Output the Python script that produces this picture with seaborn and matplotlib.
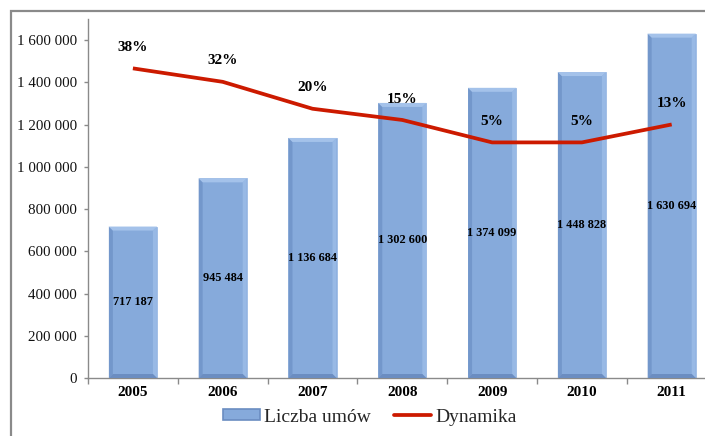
import numpy as np
import matplotlib
matplotlib.use("Agg")
import matplotlib.pyplot as plt
from matplotlib.patches import Polygon, Rectangle, Patch
from matplotlib.lines import Line2D
from matplotlib.ticker import FuncFormatter
import seaborn as sns

# Number of contracts per year and year-on-year growth (%)
years = ["2005", "2006", "2007", "2008", "2009", "2010", "2011"]
contracts = [717187, 945484, 1136684, 1302600, 1374099, 1448828, 1630694]
growth = [38, 32, 20, 15, 5, 5, 13]
y_ticks = [0, 200000, 400000, 600000, 800000, 1000000, 1200000, 1400000, 1600000]

sns.set_theme(style="white")
plt.rcParams["font.family"] = ["Liberation Serif", "DejaVu Serif"]

BAR = "#86aadb"
BAR_DARK = "#7397cb"
BAR_DARKER = "#6b8dc1"
BAR_LIGHT = "#98b9e5"
BAR_LIGHTER = "#a4c2ea"
RED = "#cc1a00"
GREY = "#8a8a8a"


def spaced(v):
    return f"{int(v):,}".replace(",", " ")


fig = plt.figure(figsize=(7.05, 4.36), dpi=100)
ax = fig.add_axes([88 / 705, 1 - 378 / 436, 628.6 / 705, 359 / 436])

sns.barplot(x=years, y=contracts, color=BAR, saturation=1, width=0.535,
            edgecolor="#9fbde6", linewidth=0.6, ax=ax, zorder=2)

ax.set_xlim(-0.5, len(years) - 0.5)
ax.set_ylim(0, 1700000)

# bevelled edges on each bar
px_x = 1 / 89.8
px_y = 1700000 / 359
bx, by = 4 * px_x, 4 * px_y
for bar in ax.patches:
    x0, w, h = bar.get_x(), bar.get_width(), bar.get_height()
    x1 = x0 + w
    sides = [
        ([(x0, 0), (x0, h), (x0 + bx, h - by), (x0 + bx, by)], BAR_DARK),
        ([(x1, 0), (x1, h), (x1 - bx, h - by), (x1 - bx, by)], BAR_LIGHT),
        ([(x0, h), (x1, h), (x1 - bx, h - by), (x0 + bx, h - by)], BAR_LIGHTER),
        ([(x0, 0), (x1, 0), (x1 - bx, by), (x0 + bx, by)], BAR_DARKER),
    ]
    for pts, c in sides:
        ax.add_patch(Polygon(pts, closed=True, facecolor=c, edgecolor="none", zorder=3))

ax.bar_label(ax.containers[0], labels=[spaced(v) for v in contracts],
             label_type="center", fontsize=8.8, fontweight="bold", color="black", zorder=5)

# axes styling
for s in ("top", "right"):
    ax.spines[s].set_visible(False)
for s in ("left", "bottom"):
    ax.spines[s].set_color(GREY)
    ax.spines[s].set_linewidth(1.0)

ax.set_yticks(y_ticks)
ax.yaxis.set_major_formatter(FuncFormatter(lambda v, p: spaced(v)))
ax.tick_params(axis="y", left=True, length=3, width=1, color=GREY, pad=5,
               labelsize=10.8, labelcolor="#111111")

ax.set_xticks(range(len(years)))
ax.set_xticklabels(years, fontweight="bold", fontsize=11)
ax.set_xticks(np.arange(-0.5, len(years)), minor=True)
ax.tick_params(axis="x", which="major", length=0, pad=6, labelcolor="black")
ax.tick_params(axis="x", which="minor", bottom=True, length=4, width=1, color=GREY)
ax.set_xlabel("")
ax.set_ylabel("")
ax.grid(False)

# growth line on a secondary scale
ax2 = ax.twinx()
sns.lineplot(x=np.arange(len(years)), y=growth, color=RED, linewidth=2.7,
             ax=ax2, solid_capstyle="butt")
ax2.set_ylim(-100, 60)
ax2.set_axis_off()
for i, g in enumerate(growth):
    ax2.annotate(f"{g}%", (i, g), xytext=(0, 15), textcoords="offset points",
                 ha="center", va="center", fontsize=11, fontweight="bold", color="black")

# legend
handles = [Patch(facecolor=BAR, edgecolor=BAR_DARKER, linewidth=1.2),
           Line2D([0], [0], color=RED, linewidth=2.7)]
fig.legend(handles, ["Liczba umów", "Dynamika"], loc="center",
           bbox_to_anchor=(370 / 705, 1 - 417 / 436), ncol=2, frameon=False,
           fontsize=14, handlelength=1.9, handleheight=0.5, handletextpad=0.2,
           columnspacing=1.2)

# outer chart frame
top = 1 - 11 / 436
fig.patches.append(Rectangle((11 / 705, -0.2), 1.2, top + 0.2,
                             transform=fig.transFigure, fill=False,
                             edgecolor=GREY, linewidth=1.6, zorder=0))

fig.savefig("out.png", dpi=100)
